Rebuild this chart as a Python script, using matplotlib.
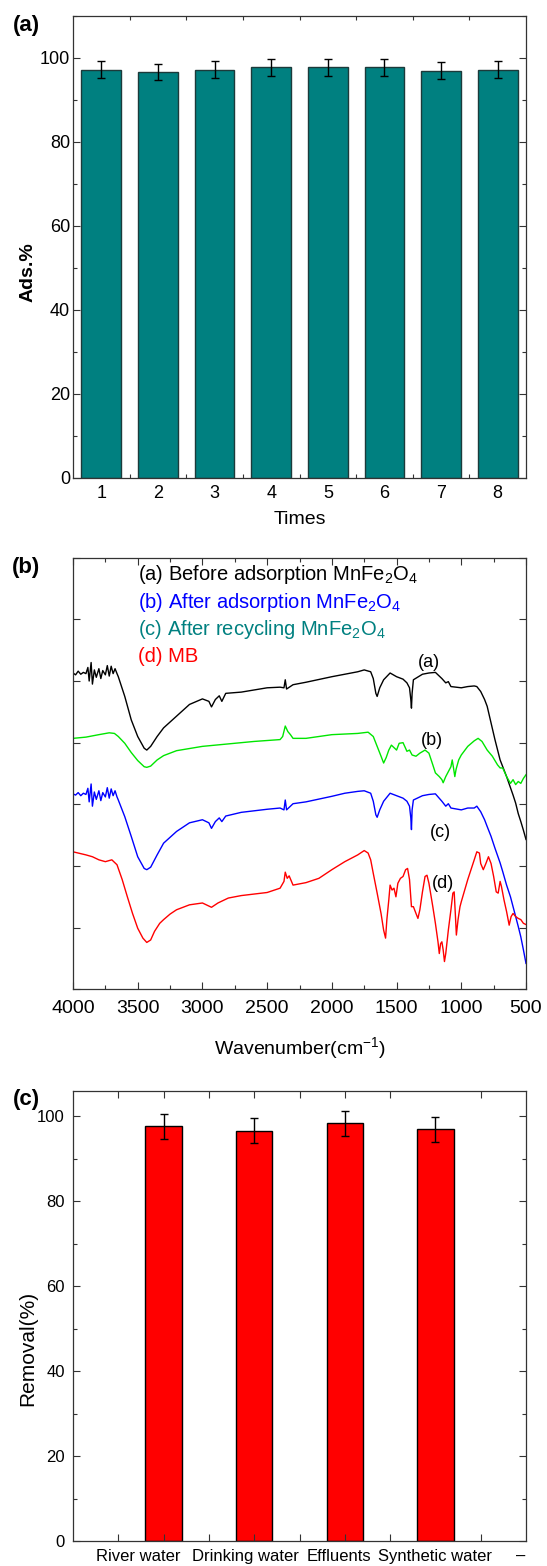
import numpy as np
import matplotlib
matplotlib.use("Agg")
import matplotlib.pyplot as plt
from matplotlib.ticker import MultipleLocator, FixedLocator, NullFormatter

plt.rcParams['font.family'] = ['Liberation Sans', 'DejaVu Sans']
plt.rcParams['mathtext.fontset'] = 'custom'
plt.rcParams['mathtext.rm'] = 'Liberation Sans'
plt.rcParams['mathtext.it'] = 'Liberation Sans'
plt.rcParams['mathtext.bf'] = 'Liberation Sans:bold'

# ---- panel (a): reuse cycles
times = [1, 2, 3, 4, 5, 6, 7, 8]
ads = [97.2, 96.7, 97.2, 97.8, 97.8, 97.8, 97.0, 97.2]
ads_err = [2.0, 1.9, 2.0, 2.0, 2.0, 2.0, 2.0, 2.0]

# ---- panel (b): FTIR spectra (offset, arbitrary units)
wn_a = [4000, 3980, 3960, 3940, 3920, 3900, 3885, 3875, 3860, 3850, 3835, 3820, 3800,
        3785, 3770, 3750, 3735, 3720, 3705, 3690, 3675, 3660, 3650, 3600, 3550, 3500,
        3450, 3430, 3400, 3350, 3300, 3200, 3100, 3000, 2950, 2930, 2900, 2870, 2850,
        2820, 2700, 2500, 2400, 2370, 2360, 2350, 2300, 2200, 2000, 1900, 1800, 1750,
        1700, 1680, 1660, 1650, 1630, 1600, 1550, 1500, 1450, 1420, 1400, 1390, 1385,
        1380, 1370, 1300, 1250, 1200, 1150, 1120, 1100, 1080, 1000, 950, 900, 880, 850,
        820, 800, 770, 740, 700, 650, 600, 580, 560, 540, 520, 500]
ir_a = [5.13, 5.10, 5.16, 5.11, 5.14, 5.12, 5.22, 5.00, 5.30, 4.95, 5.18, 5.06, 5.20,
        5.04, 5.17, 5.10, 5.25, 5.08, 5.24, 5.12, 5.20, 5.12, 5.07, 4.75, 4.37, 4.10,
        3.91, 3.88, 3.94, 4.10, 4.24, 4.43, 4.62, 4.71, 4.67, 4.58, 4.70, 4.76, 4.67,
        4.80, 4.82, 4.89, 4.90, 4.89, 5.02, 4.87, 4.94, 4.98, 5.07, 5.11, 5.15, 5.18,
        5.15, 5.04, 4.80, 4.75, 4.89, 5.02, 5.13, 5.07, 5.03, 4.97, 4.89, 4.70, 4.56,
        4.80, 5.02, 5.11, 5.13, 5.14, 5.04, 4.97, 4.99, 4.91, 4.89, 4.91, 4.92, 4.91, 4.83,
        4.70, 4.59, 4.32, 4.05, 3.72, 3.45, 3.15, 3.02, 2.85, 2.72, 2.58, 2.43]

wn_b = [4000, 3900, 3800, 3720, 3680, 3650, 3600, 3550, 3500, 3450, 3430, 3400, 3350,
        3300, 3200, 3000, 2800, 2600, 2400, 2380, 2360, 2340, 2320, 2300, 2200, 2000,
        1800, 1720, 1680, 1650, 1620, 1600, 1580, 1560, 1540, 1500, 1480, 1450, 1420,
        1400, 1380, 1350, 1320, 1280, 1250, 1220, 1200, 1170, 1150, 1140, 1120, 1100,
        1080, 1070, 1060, 1050, 1040, 1020, 1000, 950, 900, 870, 840, 800, 760, 720,
        700, 680, 650, 620, 600, 580, 560, 540, 520, 500]
ir_b = [4.07, 4.09, 4.13, 4.16, 4.15, 4.10, 3.99, 3.84, 3.71, 3.61, 3.60, 3.62, 3.72,
        3.79, 3.87, 3.94, 3.98, 4.02, 4.05, 4.10, 4.27, 4.18, 4.13, 4.07, 4.07, 4.13,
        4.15, 4.17, 4.10, 3.94, 3.78, 3.67, 3.76, 3.88, 3.96, 3.88, 3.99, 4.00, 3.86,
        3.88, 3.80, 3.78, 3.83, 3.88, 3.83, 3.64, 3.51, 3.45, 3.40, 3.35, 3.45, 3.53,
        3.61, 3.72, 3.59, 3.45, 3.57, 3.72, 3.80, 3.94, 4.03, 4.07, 4.02, 3.88, 3.78, 3.64,
        3.59, 3.59, 3.45, 3.34, 3.40, 3.32, 3.37, 3.34, 3.42, 3.48]

wn_c = [4000, 3980, 3960, 3940, 3920, 3900, 3885, 3875, 3860, 3850, 3835, 3820, 3800,
        3785, 3770, 3750, 3735, 3720, 3705, 3690, 3675, 3660, 3650, 3600, 3550, 3500,
        3450, 3430, 3400, 3350, 3300, 3200, 3100, 3000, 2950, 2930, 2900, 2870, 2850,
        2820, 2700, 2500, 2400, 2370, 2360, 2350, 2300, 2200, 2000, 1900, 1800, 1750,
        1700, 1680, 1660, 1650, 1630, 1600, 1550, 1500, 1450, 1420, 1400, 1390, 1385,
        1380, 1370, 1300, 1250, 1200, 1150, 1120, 1100, 1080, 1000, 950, 900, 880, 850,
        820, 800, 770, 740, 700, 680, 650, 620, 600, 580, 560, 540, 520, 500]
ir_c = [3.17, 3.15, 3.19, 3.14, 3.18, 3.16, 3.26, 3.04, 3.33, 2.97, 3.20, 3.08, 3.22,
        3.06, 3.19, 3.12, 3.27, 3.10, 3.25, 3.14, 3.22, 3.12, 3.07, 2.80, 2.48, 2.15,
        1.96, 1.94, 1.98, 2.18, 2.37, 2.56, 2.70, 2.75, 2.70, 2.61, 2.72, 2.78, 2.72,
        2.81, 2.87, 2.92, 2.94, 2.91, 3.07, 2.91, 3.01, 3.04, 3.13, 3.18, 3.21, 3.22,
        3.18, 3.05, 2.83, 2.79, 2.91, 3.05, 3.18, 3.14, 3.10, 3.05, 2.97, 2.78, 2.59,
        2.91, 3.07, 3.14, 3.16, 3.17, 3.05, 2.97, 3.01, 2.94, 2.91, 2.94, 2.94, 2.97, 2.88,
        2.75, 2.64, 2.48, 2.29, 2.05, 1.91, 1.69, 1.50, 1.34, 1.18, 1.02, 0.85, 0.64, 0.42]

wn_d = [4000, 3900, 3850, 3800, 3750, 3700, 3660, 3620, 3580, 3540, 3500, 3460, 3430,
        3400, 3370, 3330, 3300, 3250, 3200, 3100, 3000, 2930, 2880, 2800, 2700, 2500,
        2400, 2370, 2360, 2345, 2330, 2300, 2200, 2100, 2000, 1900, 1800, 1750, 1720,
        1700, 1680, 1650, 1620, 1600, 1585, 1575, 1560, 1550, 1535, 1520, 1505, 1490,
        1470, 1450, 1430, 1415, 1400, 1385, 1370, 1350, 1335, 1320, 1300, 1280, 1265,
        1250, 1220, 1200, 1180, 1170, 1160, 1150, 1140, 1130, 1120, 1100, 1080, 1065,
        1055, 1045, 1038, 1025, 1010, 1000, 950, 900, 880, 860, 850, 830, 810, 790, 770,
        750, 730, 715, 700, 690, 670, 650, 630, 615, 600, 580, 560, 540, 520, 500]
ir_d = [2.23, 2.18, 2.15, 2.10, 2.07, 2.10, 2.02, 1.78, 1.50, 1.23, 0.99, 0.83, 0.76,
        0.80, 0.94, 1.07, 1.13, 1.22, 1.29, 1.37, 1.40, 1.33, 1.40, 1.48, 1.52, 1.57,
        1.64, 1.75, 1.90, 1.80, 1.84, 1.69, 1.73, 1.80, 1.94, 2.07, 2.18, 2.25, 2.21,
        2.10, 1.88, 1.56, 1.23, 0.96, 0.83, 1.13, 1.45, 1.69, 1.61, 1.64, 1.50, 1.72,
        1.80, 1.83, 1.94, 1.96, 1.78, 1.34, 1.34, 1.23, 1.15, 1.29, 1.58, 1.83, 1.85,
        1.72, 1.34, 1.07, 0.77, 0.58, 0.74, 0.77, 0.64, 0.45, 0.58, 0.96, 1.29, 1.56,
        1.58, 1.18, 0.88, 1.13, 1.34, 1.42, 1.78, 2.10, 2.23, 2.21, 2.04, 1.94, 2.04, 2.15, 2.04,
        1.83, 1.58, 1.56, 1.75, 1.67, 1.45, 1.26, 1.04, 1.18, 1.23, 1.18, 1.15, 1.13, 1.07, 1.05]

legend_labels = [r'(a) Before adsorption MnFe$_\mathrm{2}$O$_\mathrm{4}$',
                 r'(b) After adsorption MnFe$_\mathrm{2}$O$_\mathrm{4}$',
                 r'(c) After recycling MnFe$_\mathrm{2}$O$_\mathrm{4}$',
                 '(d) MB']
legend_colors = ['black', '#0000ff', '#008080', '#ff0000']

# ---- panel (c): real water samples
samples = ['River water', 'Drinking water', 'Effluents', 'Synthetic water', '–']
removal = [97.6, 96.6, 98.3, 96.9]
removal_err = [2.9, 2.9, 2.9, 2.9]

fig = plt.figure(figsize=(5.47, 15.66), dpi=100)
L, W = 73 / 547, 453 / 547
H = 1566.0
ax1 = fig.add_axes([L, 1 - 477.7 / H, W, (477.7 - 16) / H])
ax2 = fig.add_axes([L, 1 - 989.3 / H, W, (989.3 - 557.7) / H])
ax3 = fig.add_axes([L, 1 - 1541 / H, W, (1541 - 1090.7) / H])

for ax in (ax1, ax2, ax3):
    for s in ax.spines.values():
        s.set_linewidth(0.9)
        s.set_color('#333333')
    ax.tick_params(which='both', direction='in', top=True, right=True,
                   width=0.8, color='#333333')
    ax.tick_params(which='major', length=5)
    ax.tick_params(which='minor', length=3)

# (a)
ax1.bar(times, ads, width=0.7, color='#008080', edgecolor='#1c3a3a', linewidth=1.0,
        yerr=ads_err, error_kw=dict(ecolor='black', elinewidth=1.0, capsize=3, capthick=1.0))
ax1.set_xlim(0.5, 8.5)
ax1.set_ylim(0, 110)
ax1.set_xticks(times)
ax1.xaxis.set_minor_locator(FixedLocator(np.arange(1.5, 8, 1.0)))
ax1.tick_params(axis='x', which='major', length=0, pad=5, labelsize=13)
ax1.yaxis.set_major_locator(MultipleLocator(20))
ax1.yaxis.set_minor_locator(MultipleLocator(10))
ax1.tick_params(axis='y', which='major', pad=2, labelsize=13)
ax1.set_xlabel('Times', fontsize=14)
ax1.xaxis.set_label_coords(0.5, -0.072)
ax1.xaxis.label.set_va('top')
ax1.set_ylabel('Ads.%', fontsize=14, fontweight='bold')
ax1.yaxis.set_label_coords(-0.1, 0.446)
ax1.yaxis.label.set_va('center')

# (b)
ax2.plot(wn_a, ir_a, color='black', lw=1.0)
ax2.plot(wn_b, ir_b, color='#00e600', lw=1.0)
ax2.plot(wn_c, ir_c, color='#0000ff', lw=1.0)
ax2.plot(wn_d, ir_d, color='#ff0000', lw=1.0)
ax2.set_xlim(4000, 500)
ax2.set_ylim(0, 7)
ax2.xaxis.set_major_locator(MultipleLocator(500))
ax2.xaxis.set_minor_locator(MultipleLocator(250))
ax2.yaxis.set_major_locator(MultipleLocator(1))
ax2.yaxis.set_major_formatter(NullFormatter())
ax2.tick_params(axis='x', which='major', pad=8, labelsize=14)
ax2.set_xlabel(r'Wavenumber(cm$^{-1}$)', fontsize=14)
ax2.xaxis.set_label_coords(0.5, -0.105)
ax2.xaxis.label.set_va('top')
leg_y = [6.72, 6.28, 5.83, 5.40]
for lab, col, yy in zip(legend_labels, legend_colors, leg_y):
    ax2.text(3500, yy, lab, color=col, fontsize=14.5, ha='left', va='center')
for lab, wn, yy in zip(['(a)', '(b)', '(c)', '(d)'], [1248, 1230, 1160, 1143], [5.3, 4.04, 2.54, 1.72]):
    ax2.text(wn, yy, lab, fontsize=13, ha='center', va='center')

# (c)
xpos = [1, 2, 3, 4]
ax3.bar(xpos, removal, width=0.4, color='#ff0000', edgecolor='black', linewidth=1.0,
        yerr=removal_err, error_kw=dict(ecolor='black', elinewidth=1.0, capsize=3, capthick=1.0))
ax3.set_xlim(0, 5)
ax3.set_ylim(0, 106)
ax3.set_xticks([0.72, 1.90, 2.93, 4.0, 4.94], samples)
ax3.xaxis.set_minor_locator(FixedLocator(np.arange(0.5, 5, 0.5)))
ax3.tick_params(axis='x', which='major', length=0, pad=6, labelsize=12)
ax3.tick_params(axis='x', which='minor', length=5)
ax3.yaxis.set_major_locator(MultipleLocator(20))
ax3.yaxis.set_minor_locator(MultipleLocator(10))
ax3.tick_params(axis='y', which='major', pad=6, labelsize=12)
ax3.set_ylabel('Removal(%)', fontsize=15)
ax3.yaxis.set_label_coords(-0.1, 0.4286)
ax3.yaxis.label.set_va('center')

# panel letters
for lab, py in [('(a)', 25), ('(b)', 568), ('(c)', 1100)]:
    fig.text(26 / 547, 1 - py / H, lab, fontsize=16, fontweight='bold', ha='center', va='center')

fig.savefig('out.png', dpi=100)
